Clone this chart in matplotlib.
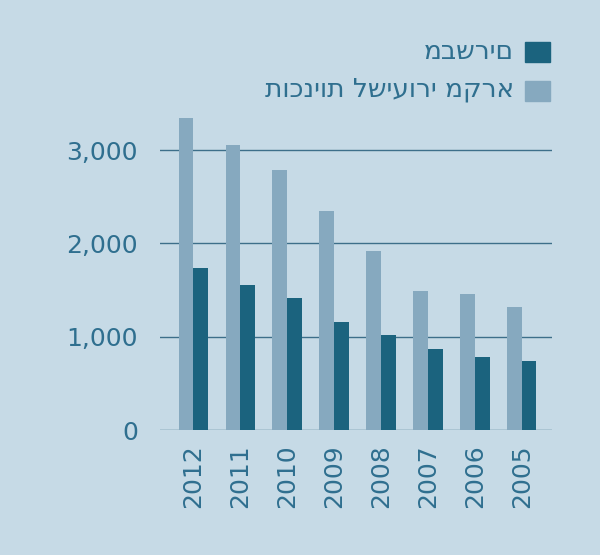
import matplotlib
matplotlib.use("Agg")
import matplotlib.pyplot as plt
import numpy as np

years = ["2012", "2011", "2010", "2009", "2008", "2007", "2006", "2005"]
programs = [3343, 3054, 2786, 2347, 1918, 1490, 1457, 1318]
instructors = [1736, 1554, 1414, 1157, 1018, 868, 782, 739]
yticks = [0, 1000, 2000, 3000]
ytick_labels = ["0", "1,000", "2,000", "3,000"]
label_instr = "מבשרים"
label_prog = "תוכניות לשיעורי מקרא"

bg = "#c6dae6"
light = "#86a9bf"
dark = "#1b637e"
txt = "#2f6f8f"

fig = plt.figure(figsize=(6, 5.55), dpi=100, facecolor=bg)
ax = fig.add_axes([0.267, 0.225, 0.653, 0.577], facecolor=bg)
x = np.arange(len(years))
w = 0.31
ax.bar(x - w/2, programs, w, color=light, zorder=2)
ax.bar(x + w/2, instructors, w, color=dark, zorder=2)
ax.set_xlim(-0.7, 7.64)
ax.set_ylim(0, 3430)
for t in yticks:
    ax.axhline(t, color="#3d6f8a", lw=1, zorder=1)
ax.set_yticks(yticks)
ax.set_yticklabels(ytick_labels, fontsize=18, color=txt)
ax.set_xticks(x)
ax.set_xticklabels(years, rotation=90, fontsize=18, color=txt)
ax.tick_params(length=0, pad=10)
ax.tick_params(axis="y", pad=16)
for s in ax.spines.values():
    s.set_visible(False)

# legend
fig.patches.append(plt.Rectangle((525/600, 1-62/555), 25/600, 20/555, transform=fig.transFigure, color=dark))
fig.patches.append(plt.Rectangle((525/600, 1-101/555), 25/600, 20/555, transform=fig.transFigure, color=light))
fig.text(514/600, 1-52/555, label_instr, ha="right", va="center", fontsize=19, color=txt)
fig.text(514/600, 1-90/555, label_prog, ha="right", va="center", fontsize=19, color=txt)

fig.savefig("out.png", dpi=100, facecolor=bg)
